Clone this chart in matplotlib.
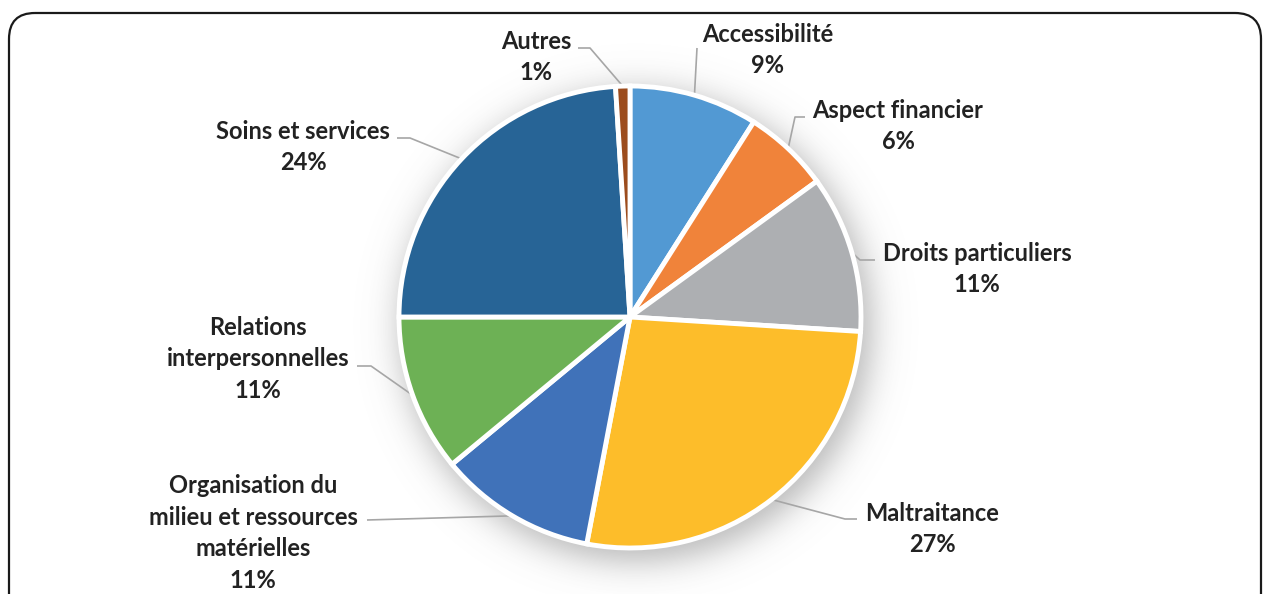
import numpy as np
import matplotlib
matplotlib.use("Agg")
import matplotlib.pyplot as plt
from matplotlib.patches import FancyBboxPatch

plt.rcParams['font.family'] = ['Lato', 'DejaVu Sans']

# données du graphique (sens horaire depuis le haut)
labels = ['Accessibilité', 'Aspect financier', 'Droits particuliers', 'Maltraitance',
          'Organisation du\nmilieu et ressources\nmatérielles',
          'Relations\ninterpersonnelles', 'Soins et services', 'Autres']
values = [9, 6, 11, 27, 11, 11, 24, 1]
colors = ['#5299D3', '#F0833A', '#ADAFB2', '#FDBD2A', '#4072B9', '#6DB155', '#276496', '#9C4C1D']

W, H = 1267, 594
cx, cy, R = 630, 317, 231

fig = plt.figure(figsize=(W / 100, H / 100), dpi=100)
ax = fig.add_axes([0, 0, 1, 1])

# ombre douce derrière le camembert
xx, yy = np.meshgrid(np.arange(W) + 0.5, np.arange(H) + 0.5)
d = np.hypot(xx - (cx + 6), yy - (cy + 9)) - (R + 5)
alpha = 0.42 / (1 + np.exp(d / 10.0))
shadow = np.zeros((H, W, 4))
shadow[..., :3] = 0.35
shadow[..., 3] = alpha
ax.imshow(shadow, extent=(0, W, H, 0), origin='upper', zorder=1, interpolation='bilinear')

wedges, _ = ax.pie(values, colors=colors, startangle=-90, counterclock=True,
                   center=(cx, cy), radius=R,
                   wedgeprops=dict(edgecolor='white', linewidth=3.5, zorder=2))
for w in wedges:
    w.set_zorder(2)

# positions des étiquettes (centre du bloc) et coudes des lignes de rappel
label_pos = [(768, 50), (898, 126), (977, 269), (932, 529),
             (253, 533), (258, 359), (303, 147), (536, 57)]
elbows = [[(697, 48)], [(805, 117), (795, 117)], [(875, 260), (860, 260)],
          [(857, 519), (845, 519)], [(367, 520)], [(357, 366), (371, 366)],
          [(397, 138), (410, 138)], [(578, 48), (590, 48)]]

total = sum(values)
cum = np.cumsum([0] + values)
for i, (lab, v) in enumerate(zip(labels, values)):
    mid = (cum[i] + v / 2) / total
    th = np.deg2rad(-90 + 360 * mid)
    ex, ey = cx + R * np.cos(th), cy + R * np.sin(th)
    pts = elbows[i] + [(ex, ey)]
    ax.plot([p[0] for p in pts], [p[1] for p in pts], color='#A6A6A6', lw=1.2,
            zorder=1.5, solid_capstyle='butt')
    x, y = label_pos[i]
    ax.text(x, y, f'{lab}\n{v}%', ha='center', va='center', fontsize=17,
            fontweight='bold', color='#222222', linespacing=1.45, zorder=4)

# cadre arrondi
frame = FancyBboxPatch((9, 13), 1252, 620, boxstyle='round,pad=0,rounding_size=26',
                       facecolor='none', edgecolor='#1A1A1A', lw=1.6, zorder=5)
ax.add_patch(frame)

ax.set_xlim(0, W)
ax.set_ylim(H, 0)
ax.set_aspect('auto')
ax.axis('off')

fig.savefig('out.png', dpi=100, facecolor='white')
